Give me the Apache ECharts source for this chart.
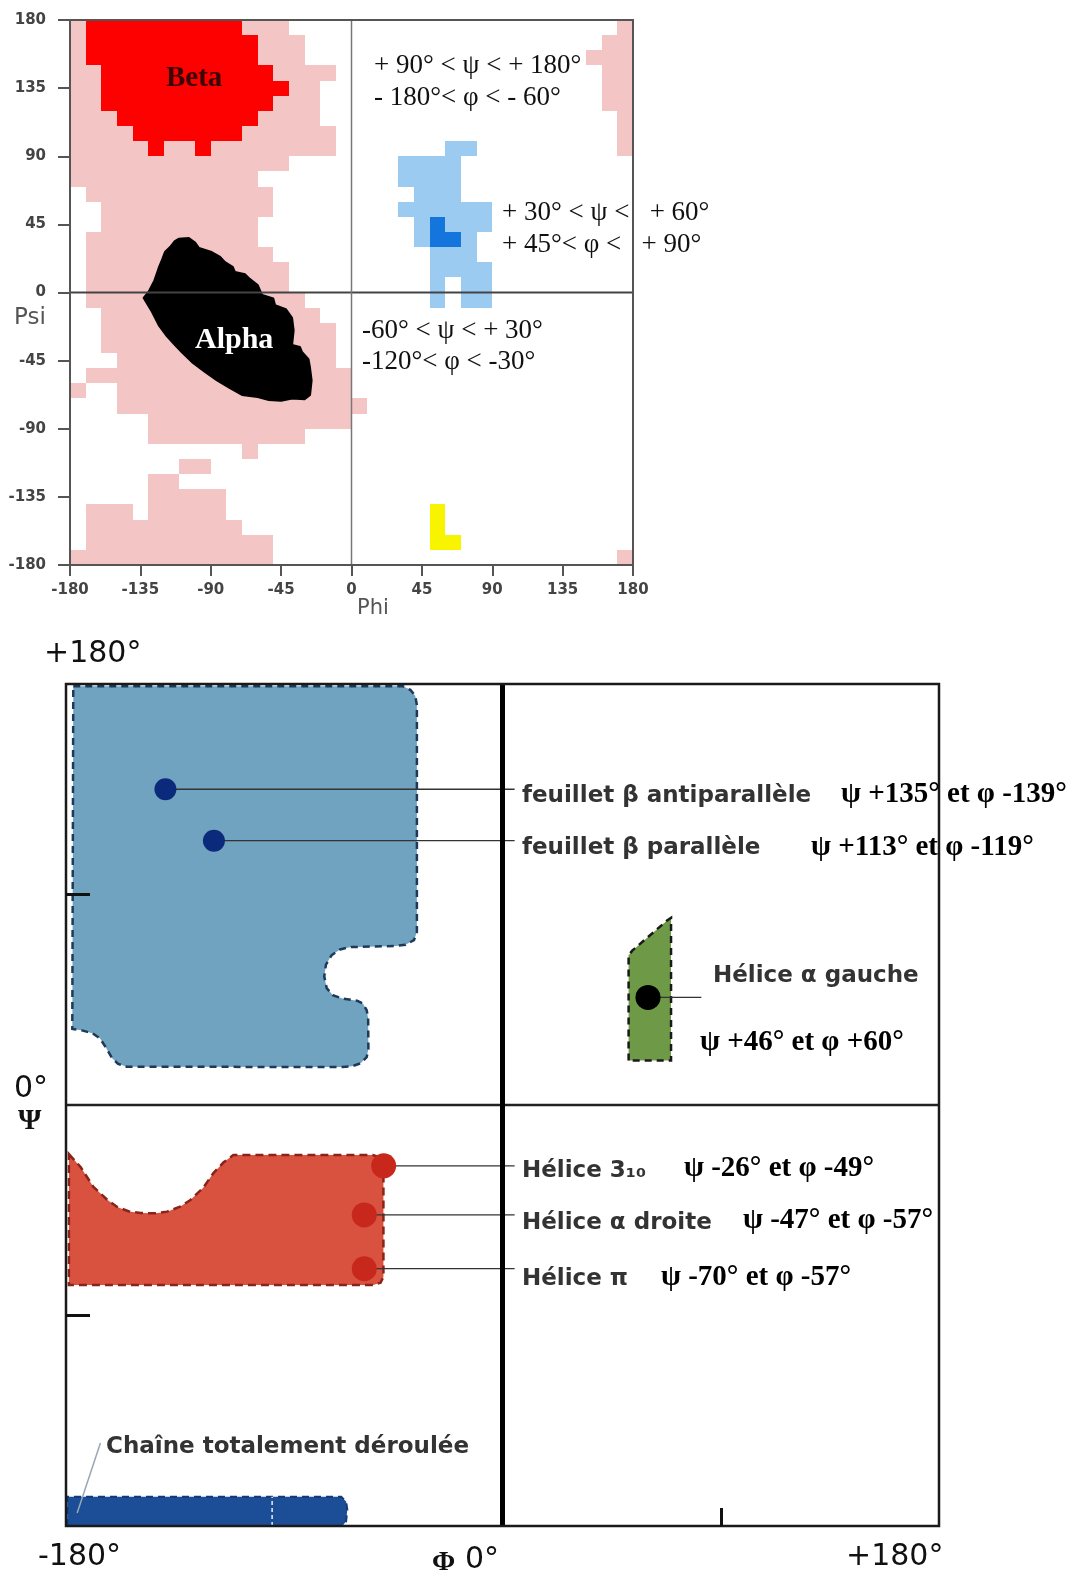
<!DOCTYPE html>
<html>
<head>
<meta charset="utf-8">
<script src="https://cdn.jsdelivr.net/npm/echarts@6/dist/echarts.min.js"></script>
<style>
html, body { margin: 0; padding: 0; background: #fff; }
#chart { width: 1077px; height: 1580px; }
</style>
</head>
<body>
<div id="chart"></div>
<script>
// ---- top plot : 10 degree cells, each row = [psi lower edge, phi start, phi end]
const allowedRows = [
  [170, -180, -40], [160, -180, -30], [150, -180, -30], [140, -180, -10],
  [130, -180, -20], [120, -180, -20], [110, -180, -20], [100, -180, -10],
  [90, -180, -10], [80, -180, -40], [70, -180, -60], [60, -170, -50],
  [50, -160, -50], [40, -160, -60], [30, -170, -60], [20, -170, -50],
  [10, -170, -40], [0, -170, -40], [-10, -170, -30], [-20, -160, -20],
  [-30, -160, -10], [-40, -160, -10], [-50, -150, -10], [-60, -170, 0],
  [-70, -180, -170], [-70, -150, 0], [-80, -150, 10], [-90, -130, 0],
  [-100, -130, -30], [-110, -70, -60], [-120, -110, -90], [-130, -130, -110],
  [-140, -130, -80], [-150, -170, -140], [-150, -130, -80], [-160, -170, -70],
  [-170, -170, -50], [-180, -180, -50],
  [170, 170, 180], [160, 160, 180], [150, 150, 180], [140, 160, 180],
  [130, 160, 180], [120, 160, 180], [110, 170, 180], [100, 170, 180],
  [90, 170, 180], [-180, 170, 180]
];
const betaRows = [
  [170, -170, -70], [160, -170, -60], [150, -170, -60], [140, -160, -50],
  [130, -160, -40], [120, -160, -50], [110, -150, -60], [100, -140, -70],
  [90, -130, -120], [90, -100, -90]
];
const leftRows = [
  [90, 60, 80], [80, 30, 70], [70, 30, 70], [60, 40, 70], [50, 30, 90],
  [40, 40, 90], [30, 40, 80], [20, 50, 80], [10, 50, 90],
  [0, 50, 60], [0, 70, 90], [-10, 50, 60], [-10, 70, 90]
];
const leftCoreRows = [[40, 50, 60], [30, 50, 70]];
const glyRows = [[-150, 50, 60], [-160, 50, 60], [-170, 50, 70]];
// alpha core (phi, psi)
const alphaBlob = [
  [-110.5, 35.5], [-104, 36], [-100, 33], [-97.5, 29.4], [-90, 27], [-84, 23.5],
  [-80.9, 20.1], [-76, 17], [-74.5, 13.5], [-68, 12], [-65.7, 9.6], [-60, 5],
  [-57.2, -1.7], [-50, -4], [-48.9, -8.3], [-42, -11], [-38, -16.8], [-37, -25],
  [-38, -34.7], [-33, -36], [-31.7, -39.3], [-27.5, -44], [-26.5, -49.9],
  [-25.5, -58], [-26.5, -67.7], [-30, -70.5], [-38, -70], [-45, -71.5],
  [-52.8, -71], [-60, -69], [-70, -67.7], [-78, -63], [-86, -58], [-93.7, -52.5],
  [-102, -46], [-108, -40], [-112.9, -34.7], [-118, -29], [-123.3, -21.5],
  [-128, -12], [-132.9, -3.6], [-129.7, 0.5], [-126, 8], [-123.3, 16.2],
  [-121, 22], [-119.3, 26.7], [-116, 30], [-113, 34]
];
const topTicks = [-180, -135, -90, -45, 0, 45, 90, 135, 180];

// ---- bottom plot : regions (phi, psi)
const betaRegion = [
  [-177, 179], [-41, 179], [-38, 177.5], [-36, 175], [-35.3, 171], [-35.3, 74],
  [-36.5, 70.5], [-40, 68.5], [-44, 68], [-63, 67.5], [-67, 66.5], [-70.5, 64],
  [-72.8, 60], [-73.5, 55], [-72.5, 50], [-70, 47], [-66, 45.5], [-60, 44.6],
  [-57.5, 43.3], [-56, 40.5], [-55.4, 37], [-55.3, 24], [-56, 20.5], [-58.5, 17.8],
  [-62, 16.6], [-66, 16.2], [-155, 16.4], [-158.5, 17.6], [-161, 20],
  [-163.5, 24.5], [-166, 28.5], [-169, 30.6], [-173, 31.8], [-177.4, 32.5]
];
const alphaLRegion = [[52, 19], [52, 64], [53.5, 66], [68, 79], [69.5, 80], [69.5, 19]];
const helixRegion = [
  [-178.8, -21], [-174, -26.5], [-168.7, -35], [-163, -40.5], [-158.9, -43.6],
  [-154, -45.5], [-149.3, -46.2], [-143, -46.3], [-138.3, -45.6], [-133, -43.5],
  [-128.7, -40.6], [-123.5, -35.5], [-119.2, -29.1], [-115, -24.5], [-111, -21.4],
  [-53.5, -21.4], [-50.3, -22.5], [-49.1, -25], [-49.1, -73.5], [-50.3, -76],
  [-53.3, -77], [-178.8, -77]
];
const extendedRegion = [
  [-179.5, -180], [-179.5, -167.5], [-66.5, -167.5], [-64.5, -169.5],
  [-64, -173], [-64.5, -178], [-66, -180]
];
const confNames = ["feuillet β antiparallèle", "feuillet β parallèle", "Hélice α gauche",
  "Hélice 3₁₀", "Hélice α droite", "Hélice π"];
const confPhi = [-139, -119, 60, -49, -57, -57];
const confPsi = [135, 113, 46, -26, -47, -70];
const confLeaderEnd = [5, 5, 82, 5, 5, 5];
const confColor = ["#0c2a7c", "#0c2a7c", "#000000", "#c8281c", "#c8281c", "#c8281c"];
const confValues = ["ψ +135° et φ -139°", "ψ +113° et φ -119°", "ψ +46° et φ +60°",
  "ψ -26° et φ -49°", "ψ -47° et φ -57°", "ψ -70° et φ -57°"];
const chainLeader = [[-175.4, -174.4], [-165.8, -144.5]];

const SERIF = "'Liberation Serif', 'DejaVu Serif', serif";
const SANS = "'DejaVu Sans', sans-serif";

// function: blocky cells of the top plot
function cellSeries(rows, color, z) {
  return {
    type: "custom", xAxisIndex: 0, yAxisIndex: 0, z: z, silent: true,
    data: rows,
    renderItem: function (params, api) {
      const a = api.coord([api.value(1), api.value(0) + 10]);
      const b = api.coord([api.value(2), api.value(0)]);
      const x0 = Math.round(a[0]), y0 = Math.round(a[1]);
      const x1 = Math.round(b[0]), y1 = Math.round(b[1]);
      return { type: "rect", shape: { x: x0, y: y0, width: x1 - x0, height: y1 - y0 }, style: { fill: color } };
    }
  };
}

// function: one filled polygon
function polySeries(pts, style, idx, z) {
  return {
    type: "custom", xAxisIndex: idx, yAxisIndex: idx, z: z, silent: true,
    data: [pts[0]],
    renderItem: function (params, api) {
      return { type: "polygon", shape: { points: pts.map(function (p) { return api.coord(p); }) }, style: style };
    }
  };
}

// function: frame and zero lines
function frameSeries(idx, frame, vLine, hLine, z) {
  return {
    type: "custom", xAxisIndex: idx, yAxisIndex: idx, z: z, silent: true,
    data: [[0, 0]],
    renderItem: function (params, api) {
      const tl = api.coord([-180, 180]), br = api.coord([180, -180]), c = api.coord([0, 0]);
      return {
        type: "group", children: [
          { type: "line", shape: { x1: tl[0], y1: c[1], x2: br[0], y2: c[1] }, style: hLine },
          { type: "line", shape: { x1: c[0], y1: tl[1], x2: c[0], y2: br[1] }, style: vLine },
          { type: "rect", shape: { x: tl[0], y: tl[1], width: br[0] - tl[0], height: br[1] - tl[1] }, style: frame }
        ]
      };
    }
  };
}

const series = [
  cellSeries(allowedRows, "#f3c5c5", 2),
  cellSeries(betaRows, "#fd0000", 3),
  cellSeries(leftRows, "#9ccbf2", 3),
  cellSeries(leftCoreRows, "#1475dc", 4),
  cellSeries(glyRows, "#f8f400", 3),
  polySeries(alphaBlob, { fill: "#000", stroke: "#000", lineWidth: 2, lineJoin: "round" }, 0, 5),
  frameSeries(0,
    { fill: "none", stroke: "#555", lineWidth: 2 },
    { stroke: "#777", lineWidth: 1.5 },
    { stroke: "#444", lineWidth: 2 }, 8),

  polySeries(betaRegion, { fill: "#6fa3c0", stroke: "#1e3a58", lineWidth: 2.5, lineDash: [7, 5] }, 1, 3),
  polySeries(alphaLRegion, { fill: "#6e9a48", stroke: "#1a1a1a", lineWidth: 2.5, lineDash: [7, 5] }, 1, 3),
  polySeries(helixRegion, { fill: "#d9523f", stroke: "#8a2418", lineWidth: 2.5, lineDash: [8, 5] }, 1, 3),
  polySeries(extendedRegion, { fill: "#1b4e96", stroke: "#123a78", lineWidth: 2, lineDash: [7, 5] }, 1, 3),
  {
    type: "custom", xAxisIndex: 1, yAxisIndex: 1, z: 4, silent: true,
    data: [[-95, -180]],
    renderItem: function (params, api) {
      const a = api.coord([-95, -180]), b = api.coord([-95, -167.5]);
      return { type: "line", shape: { x1: a[0], y1: a[1], x2: b[0], y2: b[1] }, style: { stroke: "#e8eef8", lineWidth: 1.5, lineDash: [4, 3] } };
    }
  },
  frameSeries(1,
    { fill: "none", stroke: "#1a1a1a", lineWidth: 2.5 },
    { stroke: "#000", lineWidth: 5 },
    { stroke: "#222", lineWidth: 2.5 }, 8),
  {
    type: "custom", xAxisIndex: 1, yAxisIndex: 1, z: 6, silent: true,
    data: confPhi.map(function (p, i) { return [p, confPsi[i], confLeaderEnd[i]]; }),
    renderItem: function (params, api) {
      const a = api.coord([api.value(0), api.value(1)]);
      const b = api.coord([api.value(2), api.value(1)]);
      return { type: "line", shape: { x1: a[0], y1: a[1], x2: b[0], y2: b[1] }, style: { stroke: "#333", lineWidth: 1.3 } };
    }
  },
  {
    type: "custom", xAxisIndex: 1, yAxisIndex: 1, z: 6, silent: true,
    data: [chainLeader[0]],
    renderItem: function (params, api) {
      const a = api.coord(chainLeader[0]), b = api.coord(chainLeader[1]);
      return { type: "line", shape: { x1: a[0], y1: a[1], x2: b[0], y2: b[1] }, style: { stroke: "#9aa6b4", lineWidth: 1.5 } };
    }
  },
  {
    type: "scatter", xAxisIndex: 1, yAxisIndex: 1, z: 7, silent: true,
    symbol: "circle",
    data: confPhi.map(function (p, i) {
      return { value: [p, confPsi[i]], symbolSize: i < 2 ? 22 : 25, itemStyle: { color: confColor[i], opacity: 1 } };
    })
  }
];

function txt(text, x, y, font, fill, extra) {
  const st = { text: text, font: font, fill: fill, textVerticalAlign: "middle" };
  return Object.assign({ type: "text", x: x, y: y, z: 100, silent: true, style: Object.assign(st, extra || {}) });
}

const ann = "27px " + SERIF;
const comic = "bold 23px " + SANS;
const bold = "bold 29px " + SERIF;
const big = "30px " + SANS;
const graphic = [
  txt("Beta", 166, 79, "bold 29px " + SERIF, "#3a0505"),
  txt("Alpha", 195, 340, "bold 30px " + SERIF, "#ffffff"),
  txt("Psi", 14, 318, "23px " + SANS, "#555"),
  txt("Phi", 357, 609, "21px " + SANS, "#555"),
  txt("+ 90° < ψ < + 180°", 374, 66, ann, "#111"),
  txt("- 180°< φ < - 60°", 374, 98, ann, "#111"),
  txt("+ 30° < ψ <   + 60°", 502, 213, ann, "#111"),
  txt("+ 45°< φ <   + 90°", 502, 245, ann, "#111"),
  txt("-60° < ψ < + 30°", 362, 331, ann, "#111"),
  txt("-120°< φ < -30°", 362, 362, ann, "#111"),

  txt("+180°", 44, 654, big, "#111"),
  txt("0°", 14, 1089, big, "#111"),
  txt("Ψ", 18, 1121, "bold 30px " + SERIF, "#111"),
  txt("-180°", 38, 1557, big, "#111"),
  txt("Φ", 432, 1563, "bold 28px " + SERIF, "#111"),
  txt("0°", 465, 1560, big, "#111"),
  txt("+180°", 846, 1557, big, "#111"),

  txt(confNames[0], 522, 796, comic, "#333"),
  txt(confValues[0], 841, 795, bold, "#000"),
  txt(confNames[1], 522, 848, comic, "#333"),
  txt(confValues[1], 811, 848, bold, "#000"),
  txt(confNames[2], 713, 976, comic, "#333"),
  txt(confValues[2], 700, 1043, bold, "#000"),
  txt(confNames[3], 522, 1171, comic, "#333"),
  txt(confValues[3], 684, 1169, bold, "#000"),
  txt(confNames[4], 522, 1223, comic, "#333"),
  txt(confValues[4], 743, 1221, bold, "#000"),
  txt(confNames[5], 522, 1279, comic, "#333"),
  txt(confValues[5], 661, 1278, bold, "#000"),
  txt("Chaîne totalement déroulée", 106, 1447, comic, "#333")
];

const myChart = echarts.init(document.getElementById("chart"), null, { renderer: "canvas" });
const option = {
  animation: false,
  backgroundColor: "#fff",
  grid: [
    { left: 70, top: 20, width: 563, height: 545 },
    { left: 66, top: 684, width: 873, height: 842 }
  ],
  xAxis: [
    {
      gridIndex: 0, type: "value", min: -180, max: 180, interval: 45, z: 10,
      axisLine: { show: true, onZero: false, lineStyle: { color: "#555", width: 2 } },
      axisTick: { show: true, length: 11, lineStyle: { color: "#555", width: 2 } },
      axisLabel: { margin: 18, color: "#444", fontSize: 15, fontWeight: "bold", fontFamily: "DejaVu Sans",
        formatter: function (v) { return topTicks.indexOf(v) >= 0 ? String(v) : ""; } },
      splitLine: { show: false }
    },
    {
      gridIndex: 1, type: "value", min: -180, max: 180, interval: 90, z: 10,
      axisLine: { show: false, onZero: false },
      axisTick: { show: true, inside: true, length: 18, customValues: [90], lineStyle: { color: "#111", width: 3 } },
      axisLabel: { show: false },
      splitLine: { show: false }
    }
  ],
  yAxis: [
    {
      gridIndex: 0, type: "value", min: -180, max: 180, interval: 45, z: 10,
      axisLine: { show: true, onZero: false, lineStyle: { color: "#555", width: 2 } },
      axisTick: { show: true, length: 12, lineStyle: { color: "#555", width: 2 } },
      axisLabel: { margin: 24, color: "#444", fontSize: 15, fontWeight: "bold", fontFamily: "DejaVu Sans" },
      splitLine: { show: false }
    },
    {
      gridIndex: 1, type: "value", min: -180, max: 180, interval: 90, z: 10,
      axisLine: { show: false, onZero: false },
      axisTick: { show: true, inside: true, length: 24, customValues: [-90, 90], lineStyle: { color: "#111", width: 3 } },
      axisLabel: { show: false },
      splitLine: { show: false }
    }
  ],
  series: series,
  graphic: graphic
};
myChart.setOption(option);
window.addEventListener("resize", myChart.resize);
</script>
</body>
</html>
